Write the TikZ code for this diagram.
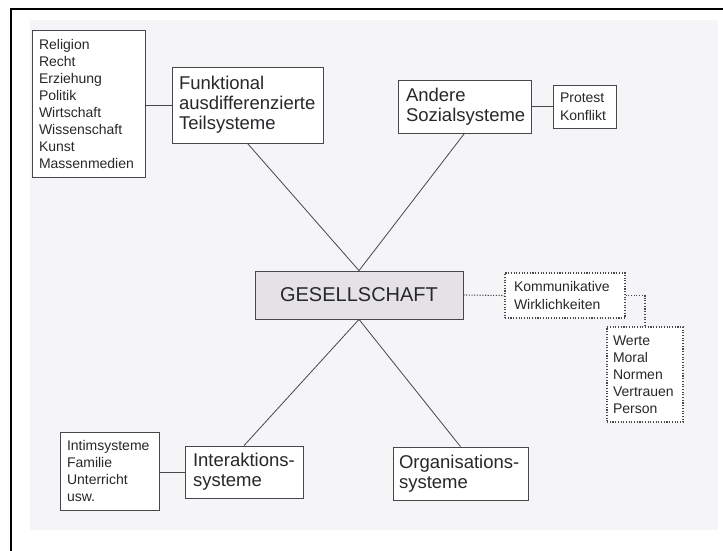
\documentclass[tikz,border=0pt]{standalone}
\usepackage{fontspec}
\setmainfont{Liberation Sans}
\definecolor{pagebg}{RGB}{245,245,248}
\definecolor{gesfill}{RGB}{228,226,231}
\definecolor{ink}{RGB}{40,40,44}
\definecolor{edge}{RGB}{70,70,75}
\begin{document}
\begin{tikzpicture}[x=1pt,y=-1pt,
  bx/.style={draw=edge, fill=white, line width=0.8pt, align=left, inner ysep=0pt, text=ink},
  dotbox/.style={bx, dash pattern=on 1.1pt off 1.6pt, line width=1.1pt},
  big/.style={font=\fontsize{18.5}{20}\selectfont},
  small/.style={font=\fontsize{14}{17}\selectfont},
  smallb/.style={font=\fontsize{14}{18}\selectfont},
  conn/.style={draw=edge, line width=0.8pt},
  dotconn/.style={draw=edge, line width=1.1pt, dash pattern=on 1.1pt off 1.6pt}]
\useasboundingbox (0,0) rectangle (723,551);
\fill[white] (0,0) rectangle (723,551);
\fill[pagebg] (30,20) rectangle (718,530);
\draw[black, line width=2.5pt] (11,551) -- (11,9) -- (723,9);

% nodes
\node[bx, small, inner xsep=7pt, text width=99pt, minimum height=147pt] (rel) at (88.5,103.5)
  {Religion\\Recht\\Erziehung\\Politik\\Wirtschaft\\Wissenschaft\\Kunst\\Massenmedien};
\node[bx, big, inner xsep=7pt, text width=137pt, minimum height=76pt] (funk) at (247.5,105)
  {Funktional\\ausdifferenzierte\\Teilsysteme};
\node[bx, big, inner xsep=8pt, text width=117pt, minimum height=53pt] (and) at (464.5,106.5)
  {Andere\\Sozialsysteme};
\node[bx, smallb, inner xsep=7pt, text width=49pt, minimum height=43pt] (prot) at (584.5,106.5)
  {Protest\\Konflikt};
\node[bx, fill=gesfill, align=center, font=\fontsize{20}{22}\selectfont, minimum width=208pt, minimum height=48pt] (ges) at (359,295)
  {GESELLSCHAFT};
\node[dotbox, smallb, inner xsep=9pt, text width=102pt, minimum height=45pt] (komm) at (565,295.5)
  {Kommunikative\\Wirklichkeiten};
\node[dotbox, small, inner xsep=6pt, text width=64pt, minimum height=95pt] (wert) at (645,374.5)
  {Werte\\Moral\\Normen\\Vertrauen\\Person};
\node[bx, small, inner xsep=7pt, text width=85pt, minimum height=78pt] (intim) at (109.5,471)
  {Intimsysteme\\Familie\\Unterricht\\usw.};
\node[bx, big, inner xsep=8pt, text width=102pt, minimum height=52pt] (inter) at (244,472)
  {Interaktions-\\systeme};
\node[bx, big, inner xsep=6pt, text width=123pt, minimum height=53pt] (org) at (460.5,473.5)
  {Organisations-\\systeme};

% connectors
\draw[conn] (rel.east |- funk.west) -- (funk.west);
\draw[conn] (and.east) -- (prot.west);
\draw[conn] (intim.east |- inter.west) -- (inter.west);
\draw[conn] (funk.south) -- (ges.north);
\draw[conn] (and.south) -- (ges.north);
\draw[conn] (inter.north) -- (ges.south);
\draw[conn] (org.north) -- (ges.south);
\draw[dotconn] (ges.east) -- (komm.west);
\draw[dotconn] (komm.east) -| (wert.north);
\end{tikzpicture}
\end{document}
